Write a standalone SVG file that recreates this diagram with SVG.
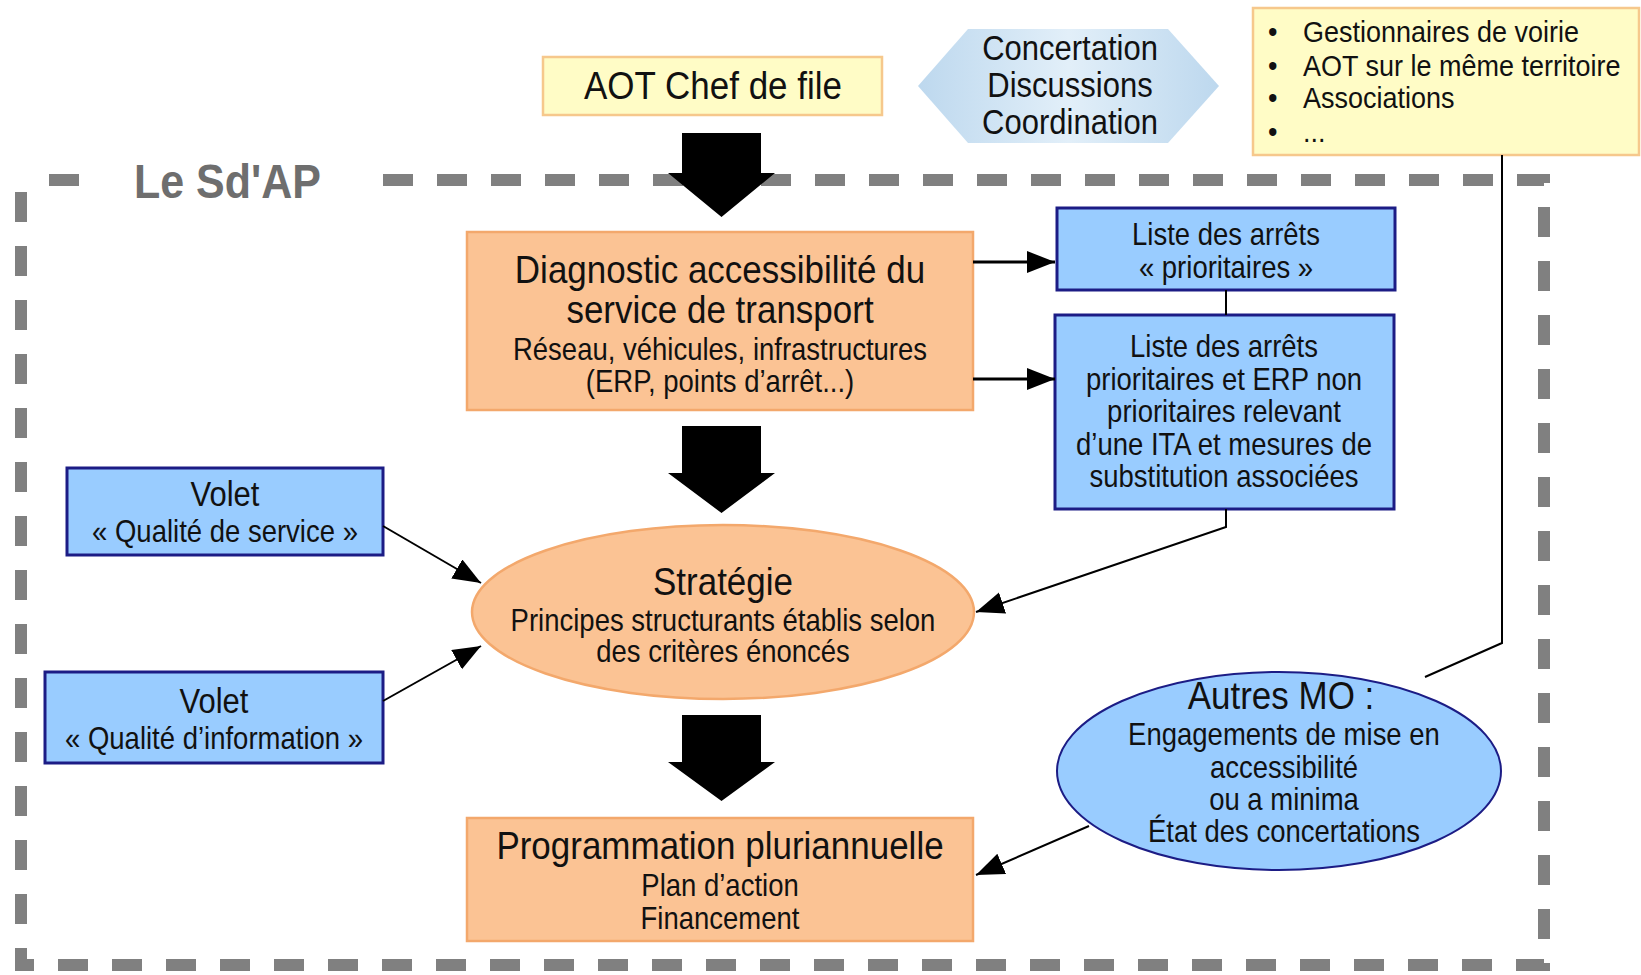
<svg xmlns="http://www.w3.org/2000/svg" width="1641" height="975" viewBox="0 0 1641 975">
<defs>
<style>
.t{font-family:"Liberation Sans",Arial,sans-serif;fill:#111;text-anchor:middle}
.l{font-family:"Liberation Sans",Arial,sans-serif;fill:#111;font-size:27px}
.h{font-size:35px}
.s{font-size:27.5px}
.v{font-size:31px}
.orange{fill:#FBC394;stroke:#F3A86C;stroke-width:2.5}
.blue{fill:#99CCFF;stroke:#1C1C85;stroke-width:3}
.yellow{fill:#FFFCC6;stroke:#F6C88C;stroke-width:2.5}
.blk{fill:#000}
.ln{fill:none;stroke:#000;stroke-width:2}
.dash{fill:none;stroke:#808080;stroke-width:12;stroke-dasharray:30 24}
</style>
<linearGradient id="dg" x1="0" y1="0" x2="1" y2="0">
<stop offset="0" stop-color="#BDD8EE"/>
<stop offset="0.5" stop-color="#E2EFF9"/>
<stop offset="1" stop-color="#BDD8EE"/>
</linearGradient>
<marker id="ah" markerUnits="userSpaceOnUse" markerWidth="30" markerHeight="24" refX="28" refY="11" orient="auto">
<path d="M0,0 L28,11 L0,22 Z" fill="#000"/>
</marker>
</defs>

<g id="border">
<path class="dash" d="M383,180 H1544 V965 H21 V180"/>
<line class="dash" x1="49" y1="180" x2="81" y2="180"/>
<text transform="translate(134,198) scale(1,1.12)" style="font-family:'Liberation Sans',Arial,sans-serif;font-size:43px;font-weight:bold;fill:#6E6E6E">Le Sd'AP</text>
</g>

<g id="concertation">
<polygon points="918,86 968,29 1168,29 1219,86 1168,143 968,143" fill="url(#dg)"/>
<text class="t v" transform="translate(1070,60) scale(1,1.12)">Concertation</text>
<text class="t v" transform="translate(1070,97) scale(1,1.12)">Discussions</text>
<text class="t v" transform="translate(1070,134) scale(1,1.12)">Coordination</text>
</g>

<g id="aot">
<rect class="yellow" x="543" y="57" width="339" height="58"/>
<text class="t h" transform="translate(713,99) scale(1,1.12)">AOT Chef de file</text>
</g>

<g id="acteurs">
<rect class="yellow" x="1253" y="8" width="386" height="147"/>
<text class="l" transform="translate(1268,42) scale(1,1.12)">•</text><text class="l" transform="translate(1303,42) scale(1,1.12)">Gestionnaires de voirie</text>
<text class="l" transform="translate(1268,76) scale(1,1.12)">•</text><text class="l" transform="translate(1303,76) scale(1,1.12)">AOT sur le même territoire</text>
<text class="l" transform="translate(1268,108) scale(1,1.12)">•</text><text class="l" transform="translate(1303,108) scale(1,1.12)">Associations</text>
<text class="l" transform="translate(1268,142) scale(1,1.12)">•</text><text class="l" transform="translate(1303,142) scale(1,1.12)">...</text>
</g>

<g id="diagnostic">
<rect class="orange" x="467" y="232" width="506" height="178"/>
<text class="t h" transform="translate(720,283) scale(1,1.12)">Diagnostic accessibilité du</text>
<text class="t h" transform="translate(720,323) scale(1,1.12)">service de transport</text>
<text class="t s" transform="translate(720,360) scale(1,1.12)">Réseau, véhicules, infrastructures</text>
<text class="t s" transform="translate(720,392) scale(1,1.12)">(ERP, points d’arrêt...)</text>
</g>

<g id="liste1">
<rect class="blue" x="1057" y="208" width="338" height="82"/>
<text class="t s" transform="translate(1226,245) scale(1,1.12)">Liste des arrêts</text>
<text class="t s" transform="translate(1226,278) scale(1,1.12)">« prioritaires »</text>
</g>

<g id="liste2">
<rect class="blue" x="1055" y="315" width="339" height="194"/>
<text class="t s" transform="translate(1224,357) scale(1,1.12)">Liste des arrêts</text>
<text class="t s" transform="translate(1224,390) scale(1,1.12)">prioritaires et ERP non</text>
<text class="t s" transform="translate(1224,422) scale(1,1.12)">prioritaires relevant</text>
<text class="t s" transform="translate(1224,455) scale(1,1.12)">d’une ITA et mesures de</text>
<text class="t s" transform="translate(1224,487) scale(1,1.12)">substitution associées</text>
</g>

<g id="volet1">
<rect class="blue" x="67" y="468" width="316" height="87"/>
<text class="t v" transform="translate(225,506) scale(1,1.12)">Volet</text>
<text class="t s" transform="translate(225,542) scale(1,1.12)">« Qualité de service »</text>
</g>

<g id="volet2">
<rect class="blue" x="45" y="672" width="338" height="91"/>
<text class="t v" transform="translate(214,713) scale(1,1.12)">Volet</text>
<text class="t s" transform="translate(214,749) scale(1,1.12)">« Qualité d’information »</text>
</g>

<g id="strategie">
<ellipse class="orange" cx="723" cy="612" rx="251" ry="87"/>
<text class="t h" transform="translate(723,595) scale(1,1.12)">Stratégie</text>
<text class="t s" transform="translate(723,631) scale(1,1.12)">Principes structurants établis selon</text>
<text class="t s" transform="translate(723,662) scale(1,1.12)">des critères énoncés</text>
</g>

<g id="programmation">
<rect class="orange" x="467" y="818" width="506" height="123"/>
<text class="t h" transform="translate(720,859) scale(1,1.12)">Programmation pluriannuelle</text>
<text class="t s" transform="translate(720,896) scale(1,1.12)">Plan d’action</text>
<text class="t s" transform="translate(720,929) scale(1,1.12)">Financement</text>
</g>

<g id="autresmo">
<ellipse cx="1279" cy="771" rx="222" ry="99" fill="#99CCFF" stroke="#1C1C85" stroke-width="2"/>
<text class="t h" transform="translate(1281,709) scale(1,1.12)">Autres MO :</text>
<text class="t s" transform="translate(1284,745) scale(1,1.12)">Engagements de mise en</text>
<text class="t s" transform="translate(1284,778) scale(1,1.12)">accessibilité</text>
<text class="t s" transform="translate(1284,810) scale(1,1.12)">ou a minima</text>
<text class="t s" transform="translate(1284,842) scale(1,1.12)">État des concertations</text>
</g>

<g id="connectors">
<path class="blk" d="M682,133 H761 V173 H775 L721.5,217 L668,173 H682 Z"/>
<path class="blk" d="M682,426 H761 V473 H775 L721.5,513 L668,473 H682 Z"/>
<path class="blk" d="M682,715 H761 V762 H775 L721.5,801 L668,762 H682 Z"/>
<line x1="973" y1="262" x2="1055" y2="262" stroke="#000" stroke-width="3" marker-end="url(#ah)"/>
<line x1="973" y1="379" x2="1055" y2="379" stroke="#000" stroke-width="3" marker-end="url(#ah)"/>
<line class="ln" x1="1226" y1="290" x2="1226" y2="315"/>
<polyline class="ln" points="1226,509 1226,527 976,612" marker-end="url(#ah)"/>
<line class="ln" x1="383" y1="526" x2="481" y2="583" marker-end="url(#ah)"/>
<line class="ln" x1="383" y1="701" x2="481" y2="646" marker-end="url(#ah)"/>
<line class="ln" x1="1089" y1="826" x2="976" y2="875" marker-end="url(#ah)"/>
<polyline class="ln" points="1502,155 1502,643 1425,677"/>
</g>
</svg>
